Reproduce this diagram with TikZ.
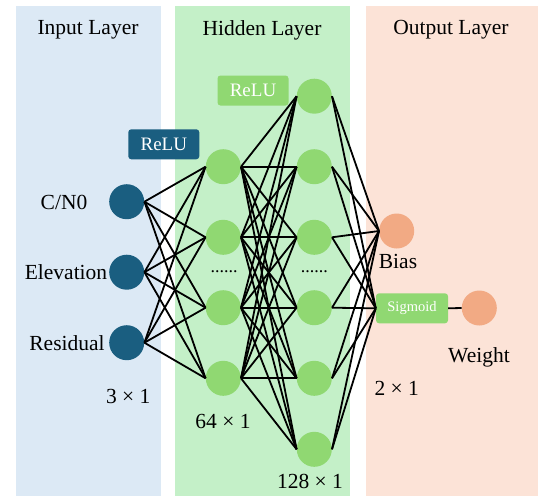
\documentclass[tikz,border=0pt]{standalone}
\usepackage{fontspec}
\setmainfont{Liberation Serif}
\begin{document}
\begin{tikzpicture}[x=1pt,y=-1pt,
  inode/.style={circle,fill=inblue,minimum size=35pt,inner sep=0pt},
  hnode/.style={circle,fill=hgreen,minimum size=35pt,inner sep=0pt},
  onode/.style={circle,fill=osalmon,minimum size=35pt,inner sep=0pt},
  lbl/.style={font=\fontsize{21.5}{24}\selectfont,inner sep=0pt},
  dotlbl/.style={font=\fontsize{18}{20}\selectfont,inner sep=0pt},
  actbox/.style={rounded corners=3pt,minimum width=71pt,minimum height=30pt,inner sep=0pt,text=white},
  conn/.style={line width=1.8pt,black}]
\definecolor{inblue}{HTML}{1A5E80}
\definecolor{hgreen}{HTML}{90D872}
\definecolor{osalmon}{HTML}{F2AA84}
\definecolor{pblue}{HTML}{DCE9F5}
\definecolor{pgreen}{HTML}{C4F0C8}
\definecolor{porange}{HTML}{FCE3D7}
\useasboundingbox (0,0) rectangle (540,496);
\fill[white] (0,0) rectangle (540,496);
% panels
\fill[pblue] (16,6) rectangle (160.5,496);
\fill[pgreen] (175,6) rectangle (349.5,496);
\fill[porange] (366,6) rectangle (538,496);
\node[lbl] (tin) at (88,30) {Input Layer};
\node[lbl] (thid) at (262,30) {Hidden Layer};
\node[lbl] (tout) at (451,30) {Output Layer};
% input nodes
\node[inode] (i1) at (126.7,201.7) {};
\node[inode] (i2) at (126.7,272.2) {};
\node[inode] (i3) at (126.7,342.7) {};
\node[lbl] (li1) at (64,202) {C/N0};
\node[lbl] (li2) at (66,272.2) {Elevation};
\node[lbl] (li3) at (67,342.7) {Residual};
\node[lbl] (din) at (128.3,396.7) {3 × 1};
% hidden 1
\foreach \k/\y in {1/166.7,2/237.3,3/307.7,4/378.3}
  \node[hnode] (a\k) at (223.3,\y) {};
\node[dotlbl] (dots1) at (224,272) {......};
\node[lbl] (dh1) at (223,421.7) {64 × 1};
% hidden 2
\foreach \k/\y in {1/96.2,2/166.7,3/237.3,4/307.7,5/378.3,6/449.3}
  \node[hnode] (b\k) at (314.3,\y) {};
\node[dotlbl] (dots2) at (314.3,272) {......};
\node[lbl] (dh2) at (310,481) {128 × 1};
% activation boxes
\node[actbox,fill=inblue,font=\fontsize{19}{22}\selectfont] (relu1) at (163.8,144.3) {ReLU};
\node[actbox,fill=hgreen,font=\fontsize{19}{22}\selectfont] (relu2) at (253,90.5) {ReLU};
% output
\node[onode] (bias) at (396.7,231) {};
\node[actbox,fill=hgreen,minimum width=72pt,font=\fontsize{14.5}{17}\selectfont] (sig) at (412,308.3) {Sigmoid};
\node[onode] (wt) at (479.3,308) {};
\node[lbl] (lb) at (398,261.7) {Bias};
\node[lbl] (lw) at (479,357.7) {Weight};
\node[lbl] (dout) at (396.7,388) {2 × 1};
% connections
\foreach \i in {1,2,3}
  \foreach \k in {1,2,3,4}
    \draw[conn] (i\i.east) -- (a\k.west);
\foreach \k in {1,2,3,4}
  \foreach \j in {1,...,6}
    \draw[conn] (a\k.east) -- (b\j.west);
\foreach \j in {1,...,6}{
  \draw[conn] (b\j.east) -- (bias.west);
  \draw[conn] (b\j.east) -- (sig.west);
}
\draw[conn] (sig.east) -- (wt.west);
\end{tikzpicture}
\end{document}
